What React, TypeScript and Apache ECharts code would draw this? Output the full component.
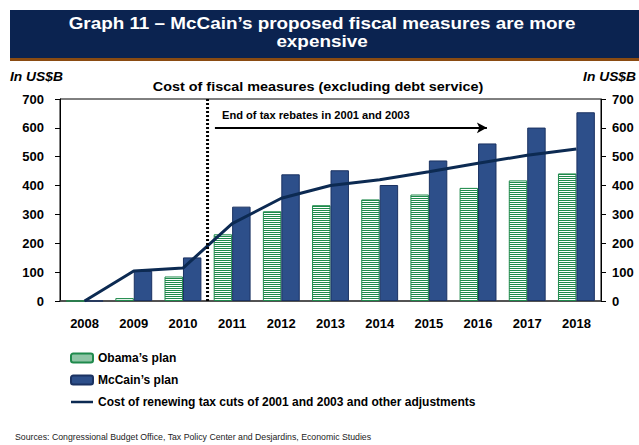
import React, { useEffect, useRef } from "react";
import * as echarts from "echarts";

const years = ["2008", "2009", "2010", "2011", "2012", "2013", "2014", "2015", "2016", "2017", "2018"];
const obamaPlan = [0, 10, 85, 231, 311, 332, 352, 369, 392, 418, 442];
const mccainPlan = [0, 104, 151, 327, 439, 453, 402, 487, 546, 601, 654];
const renewalCost = [0, 104, 114, 268, 356, 400, 420, 448, 477, 505, 527];
const yTicks = { min: 0, max: 700, interval: 100 };
const dividerX = 2.5; // between 2010 and 2011
const arrowFrom = [2.65, 600];
const arrowTo = [8.18, 600];

const FONT = "'Liberation Sans', Arial, sans-serif";
const GREEN = "#1f8a4c";
const NAVY = "#2d4f8a";
const LINE = "#0c2a52";

function makeStripe(): HTMLCanvasElement {
  const c = document.createElement("canvas");
  c.width = 2;
  c.height = 2;
  const ctx = c.getContext("2d")!;
  ctx.fillStyle = "#ffffff";
  ctx.fillRect(0, 0, 2, 2);
  ctx.fillStyle = GREEN;
  ctx.fillRect(0, 0, 2, 1);
  return c;
}

export default function App() {
  const ref = useRef<HTMLDivElement>(null);
  useEffect(() => {
    if (!ref.current) return;
    const chart = echarts.init(ref.current, undefined, { renderer: "svg" });
    const stripe = { image: makeStripe(), repeat: "repeat" };
    const axisLabel = { fontFamily: FONT, fontWeight: "bold", fontSize: 13, color: "#000" };
    const stretched = (x: number, y: number, text: string, font: string, align: string, sx: number, fill = "#000") => ({
      type: "text",
      x,
      y,
      scaleX: sx,
      style: { text, fill, font, align, verticalAlign: "middle" },
    });
    chart.setOption({
      animation: false,
      backgroundColor: "#fff",
      grid: { left: 60, right: 38, top: 99, bottom: 144, show: true, borderColor: "#000", borderWidth: 1, containLabel: false },
      legend: {
        orient: "vertical",
        left: 70,
        top: 352,
        padding: 0,
        itemWidth: 22,
        itemHeight: 9,
        itemGap: 10,
        selectedMode: false,
        textStyle: { fontFamily: FONT, fontWeight: "bold", fontSize: 12, color: "#000" },
        data: [
          { name: "Obama’s plan" },
          { name: "McCain’s plan" },
          {
            name: "Cost of renewing tax cuts of 2001 and 2003 and other adjustments",
            icon: "path://M0,0L22,0L22,0.01ZM0,3.2H22V5.8H0ZM0,9L22,9L22,8.99Z",
            itemStyle: { color: LINE, borderWidth: 0 },
          },
        ],
      },
      xAxis: [
        {
          type: "category",
          data: years,
          axisLine: { lineStyle: { color: "#444", width: 1.5 } },
          axisTick: { show: false },
          axisLabel: { ...axisLabel, margin: 16 },
        },
        { type: "value", min: -0.5, max: 10.5, show: false },
      ],
      yAxis: [
        {
          type: "value",
          ...yTicks,
          position: "left",
          axisLine: { show: true, onZero: false, lineStyle: { color: "#000" } },
          axisTick: { show: true, length: 5, lineStyle: { color: "#000" } },
          axisLabel: { ...axisLabel, margin: 16 },
          splitLine: { show: false },
        },
        {
          type: "value",
          ...yTicks,
          position: "right",
          axisLine: { show: true, onZero: false, lineStyle: { color: "#000" } },
          axisTick: { show: true, length: 5, lineStyle: { color: "#000" } },
          axisLabel: { ...axisLabel, margin: 11 },
          splitLine: { show: false },
        },
      ],
      series: [
        {
          name: "Obama’s plan",
          type: "bar",
          data: obamaPlan,
          barWidth: "37.5%",
          barGap: "0%",
          itemStyle: { color: stripe, borderColor: GREEN, borderWidth: 1 },
        },
        {
          name: "McCain’s plan",
          type: "bar",
          data: mccainPlan,
          barWidth: "37.5%",
          itemStyle: { color: NAVY, borderColor: "#1b3262", borderWidth: 1 },
        },
        {
          name: "Cost of renewing tax cuts of 2001 and 2003 and other adjustments",
          type: "line",
          data: renewalCost,
          symbol: "none",
          lineStyle: { color: LINE, width: 3 },
          itemStyle: { color: LINE },
        },
        {
          name: "divider",
          type: "line",
          xAxisIndex: 1,
          data: [[dividerX, yTicks.min], [dividerX, yTicks.max]],
          symbol: "none",
          silent: true,
          lineStyle: { color: "#000", width: 3, type: [2, 2] },
          markLine: {
            silent: true,
            symbol: ["none", "arrow"],
            symbolSize: [8, 10],
            label: { show: false },
            lineStyle: { color: "#000", width: 2, type: "solid" },
            data: [[{ coord: arrowFrom }, { coord: arrowTo }]],
          },
        },
      ],
      graphic: [
        { type: "rect", shape: { x: 10, y: 10, width: 629, height: 48 }, style: { fill: "#0b2350" } },
        { type: "rect", shape: { x: 10, y: 58, width: 629, height: 3 }, style: { fill: "#8a4b12" } },
        stretched(322, 24, "Graph 11 – McCain’s proposed fiscal measures are more", `bold 16px ${FONT}`, "center", 1.18, "#fff"),
        stretched(322, 42, "expensive", `bold 16px ${FONT}`, "center", 1.18, "#fff"),
        stretched(10, 77, "In US$B", `italic bold 12px ${FONT}`, "left", 1.15),
        stretched(636, 77, "In US$B", `italic bold 12px ${FONT}`, "right", 1.15),
        stretched(318, 87, "Cost of fiscal measures (excluding debt service)", `bold 12px ${FONT}`, "center", 1.2),
        stretched(222, 115, "End of tax rebates in 2001 and 2003", `bold 10.5px ${FONT}`, "left", 1.06),
        stretched(15, 437, "Sources: Congressional Budget Office, Tax Policy Center and Desjardins, Economic Studies", `8.5px ${FONT}`, "left", 1.03, "#222"),
      ],
    });
    return () => chart.dispose();
  }, []);
  return <div ref={ref} style={{ width: 639, height: 445, position: "absolute", left: 0, top: 0 }} />;
}
